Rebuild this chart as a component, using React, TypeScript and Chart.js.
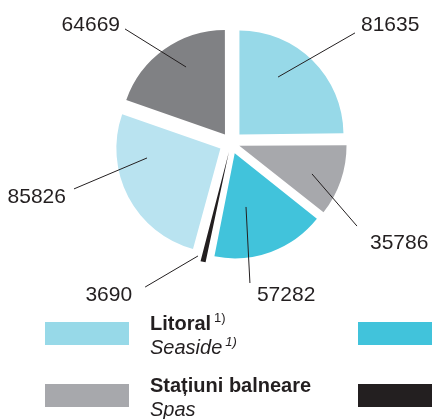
import React, { useEffect, useRef } from "react";
import { Chart, registerables } from "chart.js";

Chart.register(...registerables);

// ---- data (clockwise from 12 o'clock) ----
const categories = [
  "Litoral",
  "Stațiuni balneare",
  "Stațiuni montane",
  "Delta Dunării",
  "București și orașele reședință de județ",
  "Alte localități și trasee turistice",
];
const values = [81635, 35786, 57282, 3690, 85826, 64669];
const valueLabels = ["81635", "35786", "57282", "3690", "85826", "64669"];
const colors = ["#97d9e8", "#a7a8ac", "#41c3db", "#231f20", "#b9e3f0", "#808184"];

// legend (visible part): bold Romanian + italic English, with footnote marks
const legendRo = ["Litoral", "Stațiuni balneare"];
const legendEn = ["Seaside", "Spas"];
const legendNote = ["1)", ""];

// ---- layout / style config ----
const EXPLODE = [12, 12, 12, 18, 12, 11]; // px each slice is pulled out
const RADIUS = 104;
const TEXT = "#231f20";
const FONT = "'Liberation Sans', Arial, sans-serif";

// leader lines: [innerDeg, innerR, outerDeg, outerR, textDx, textDy, align]
const leaders: [number, number, number, number, number, number, CanvasTextAlign][] = [
  [35.5, 81, 48.4, 165.8, 6, -2, "left"],
  [110.9, 86.7, 123.4, 150.9, 13, 23, "left"],
  [166.8, 65.7, 172.3, 141.3, 7, 18, "left"],
  [196.3, 117.7, 210.8, 167.7, -13, 14, "right"],
  [259.9, 85.3, 253.7, 163.6, -8, 14, "right"],
  [329.4, 88.3, 317.1, 155.7, -5, 2, "right"],
];

const total = values.reduce((a, b) => a + b, 0);

const leaderPlugin = {
  id: "leaders",
  afterDatasetsDraw(chart: any) {
    const ctx: CanvasRenderingContext2D = chart.ctx;
    const meta = chart.getDatasetMeta(0);
    ctx.save();
    meta.data.forEach((arc: any, i: number) => {
      const { x, y } = arc.getProps(["x", "y"], true);
      const L = leaders[i];
      const pt = (deg: number, r: number) => [
        x + r * Math.sin((deg * Math.PI) / 180),
        y - r * Math.cos((deg * Math.PI) / 180),
      ];
      const [x1, y1] = pt(L[0], L[1]);
      const [x2, y2] = pt(L[2], L[3]);
      ctx.strokeStyle = TEXT;
      ctx.lineWidth = 1;
      ctx.beginPath();
      ctx.moveTo(x1, y1);
      ctx.lineTo(x2, y2);
      ctx.stroke();
      ctx.fillStyle = TEXT;
      ctx.font = `21px ${FONT}`;
      ctx.textAlign = L[6];
      ctx.textBaseline = "alphabetic";
      ctx.fillText(valueLabels[i], x2 + L[4], y2 + L[5]);
    });

    // legend
    const rows = [
      [0, 2],
      [1, 3],
    ];
    const rowTop = [322, 384];
    rows.forEach((pair, r) => {
      const top = rowTop[r];
      ctx.fillStyle = colors[pair[0]];
      ctx.fillRect(45, top, 84, 23);
      ctx.fillStyle = colors[pair[1]];
      ctx.fillRect(358, top, 84, 23);

      ctx.fillStyle = TEXT;
      ctx.textAlign = "left";
      ctx.font = `bold 20px ${FONT}`;
      ctx.fillText(legendRo[r], 150, top + 8);
      let w = ctx.measureText(legendRo[r]).width;
      if (legendNote[r]) {
        ctx.font = `13px ${FONT}`;
        ctx.fillText(legendNote[r], 150 + w + 3, top);
      }
      ctx.font = `italic 20px ${FONT}`;
      ctx.fillText(legendEn[r], 150, top + 32);
      w = ctx.measureText(legendEn[r]).width;
      if (legendNote[r]) {
        ctx.font = `italic 13px ${FONT}`;
        ctx.fillText(legendNote[r], 150 + w + 3, top + 24);
      }
    });
    ctx.restore();
  },
};

export default function App() {
  const ref = useRef<HTMLCanvasElement>(null);
  useEffect(() => {
    if (!ref.current) return;
    const chart = new Chart(ref.current, {
      type: "pie",
      data: {
        labels: categories,
        datasets: [
          {
            data: values,
            backgroundColor: colors,
            borderWidth: 0,
            radius: RADIUS,
            offset: (c: any) => {
              const v = c.dataset.data[c.dataIndex] as number;
              const circ = (v / total) * Math.PI * 2;
              const fix = 1 - Math.sin(Math.min(Math.PI, circ));
              return (4 * EXPLODE[c.dataIndex]) / (1 + fix);
            },
          } as any,
        ],
      },
      options: {
        responsive: false,
        animation: false,
        layout: { padding: { left: 30, right: 0, top: 0, bottom: 133 } },
        plugins: {
          legend: { display: false },
          tooltip: { enabled: false },
        },
      },
      plugins: [leaderPlugin],
    });
    return () => chart.destroy();
  }, []);
  return (
    <div style={{ position: "absolute", left: 0, top: 0, width: 432, height: 419, background: "#fff", overflow: "hidden" }}>
      <canvas ref={ref} width={432} height={419} style={{ width: 432, height: 419, display: "block" }} />
    </div>
  );
}
